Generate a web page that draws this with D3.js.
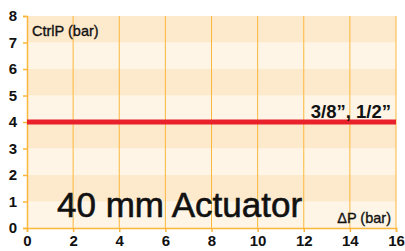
<!DOCTYPE html>
<head>
  <meta charset="utf-8" />
  <script src="https://cdn.jsdelivr.net/npm/d3@7"></script>
  <style>
    body { margin: 0; background: #fff; }
    svg { display: block; font-family: "Liberation Sans", Arial, sans-serif; }
  </style>
</head>
<body>
  <svg width="405" height="251"></svg>
  <script>
    // data
    const xTicks = [0, 2, 4, 6, 8, 10, 12, 14, 16];
    const yTicks = [0, 1, 2, 3, 4, 5, 6, 7, 8];
    const lineX = [0, 16];
    const lineY = [4, 4];
    const lineLabel = "3/8\u201d, 1/2\u201d";

    const svg = d3.select("svg");
    const x = d3.scaleLinear().domain([0, 16]).range([27, 396]);
    const y = d3.scaleLinear().domain([0, 8]).range([228, 16]);
    const orange = "#fbb73c";

    // alternating bands
    svg.append("g").selectAll("rect")
      .data(d3.range(0, 8))
      .enter().append("rect")
      .attr("x", x(0))
      .attr("y", d => y(d + 1))
      .attr("width", x(16) - x(0))
      .attr("height", d => y(d) - y(d + 1))
      .attr("fill", d => d % 2 == 1 ? "#fde9cc" : "#fef5e6");

    // vertical grid
    svg.append("g").selectAll("line")
      .data(xTicks.slice(1))
      .enter().append("line")
      .attr("x1", d => x(d)).attr("x2", d => x(d))
      .attr("y1", y(8)).attr("y2", y(0))
      .attr("stroke", orange).attr("stroke-width", 1);

    const yAxis = d3.axisLeft(y).tickValues(yTicks).tickSize(4).tickPadding(4);
    const gy = svg.append("g").attr("transform", "translate(" + x(0) + ",0)").call(yAxis);
    const xAxis = d3.axisBottom(x).tickValues(xTicks).tickSize(4).tickPadding(3);
    const gx = svg.append("g").attr("transform", "translate(0," + y(0) + ")").call(xAxis);
    [gx, gy].forEach(g => {
      g.select(".domain").attr("stroke", orange).attr("stroke-width", 1.5);
      g.selectAll(".tick line").attr("stroke", orange).attr("stroke-width", 1.5);
      g.selectAll("text").attr("fill", "#111").attr("font-size", 15)
        .attr("font-weight", "bold").attr("font-family", "\"Liberation Sans\", Arial, sans-serif");
    });
    gy.selectAll("text").attr("dx", "-2");

    // red line
    svg.append("line")
      .attr("x1", x(lineX[0])).attr("x2", x(lineX[1]))
      .attr("y1", y(lineY[0])).attr("y2", y(lineY[1]))
      .attr("stroke", "#e8212b").attr("stroke-width", 5);

    svg.append("text").attr("x", 391).attr("y", 118)
      .attr("text-anchor", "end").attr("font-size", 18.5).attr("font-weight", "bold")
      .attr("fill", "#111").text(lineLabel);

    // medium-ish weight: thin stroke on regular text
    svg.append("text").attr("x", 32).attr("y", 36)
      .attr("font-size", 14.5).attr("fill", "#111")
      .attr("stroke", "#111").attr("stroke-width", 0.35).text("CtrlP (bar)");

    svg.append("text").attr("x", 391).attr("y", 223)
      .attr("text-anchor", "end").attr("font-size", 14.5).attr("fill", "#111")
      .attr("stroke", "#111").attr("stroke-width", 0.35).text("\u0394P (bar)");

    svg.append("text").attr("x", 57).attr("y", 217)
      .attr("font-size", 35).attr("fill", "#111")
      .attr("stroke", "#111").attr("stroke-width", 0.6).text("40 mm Actuator");
  </script>
</body>
